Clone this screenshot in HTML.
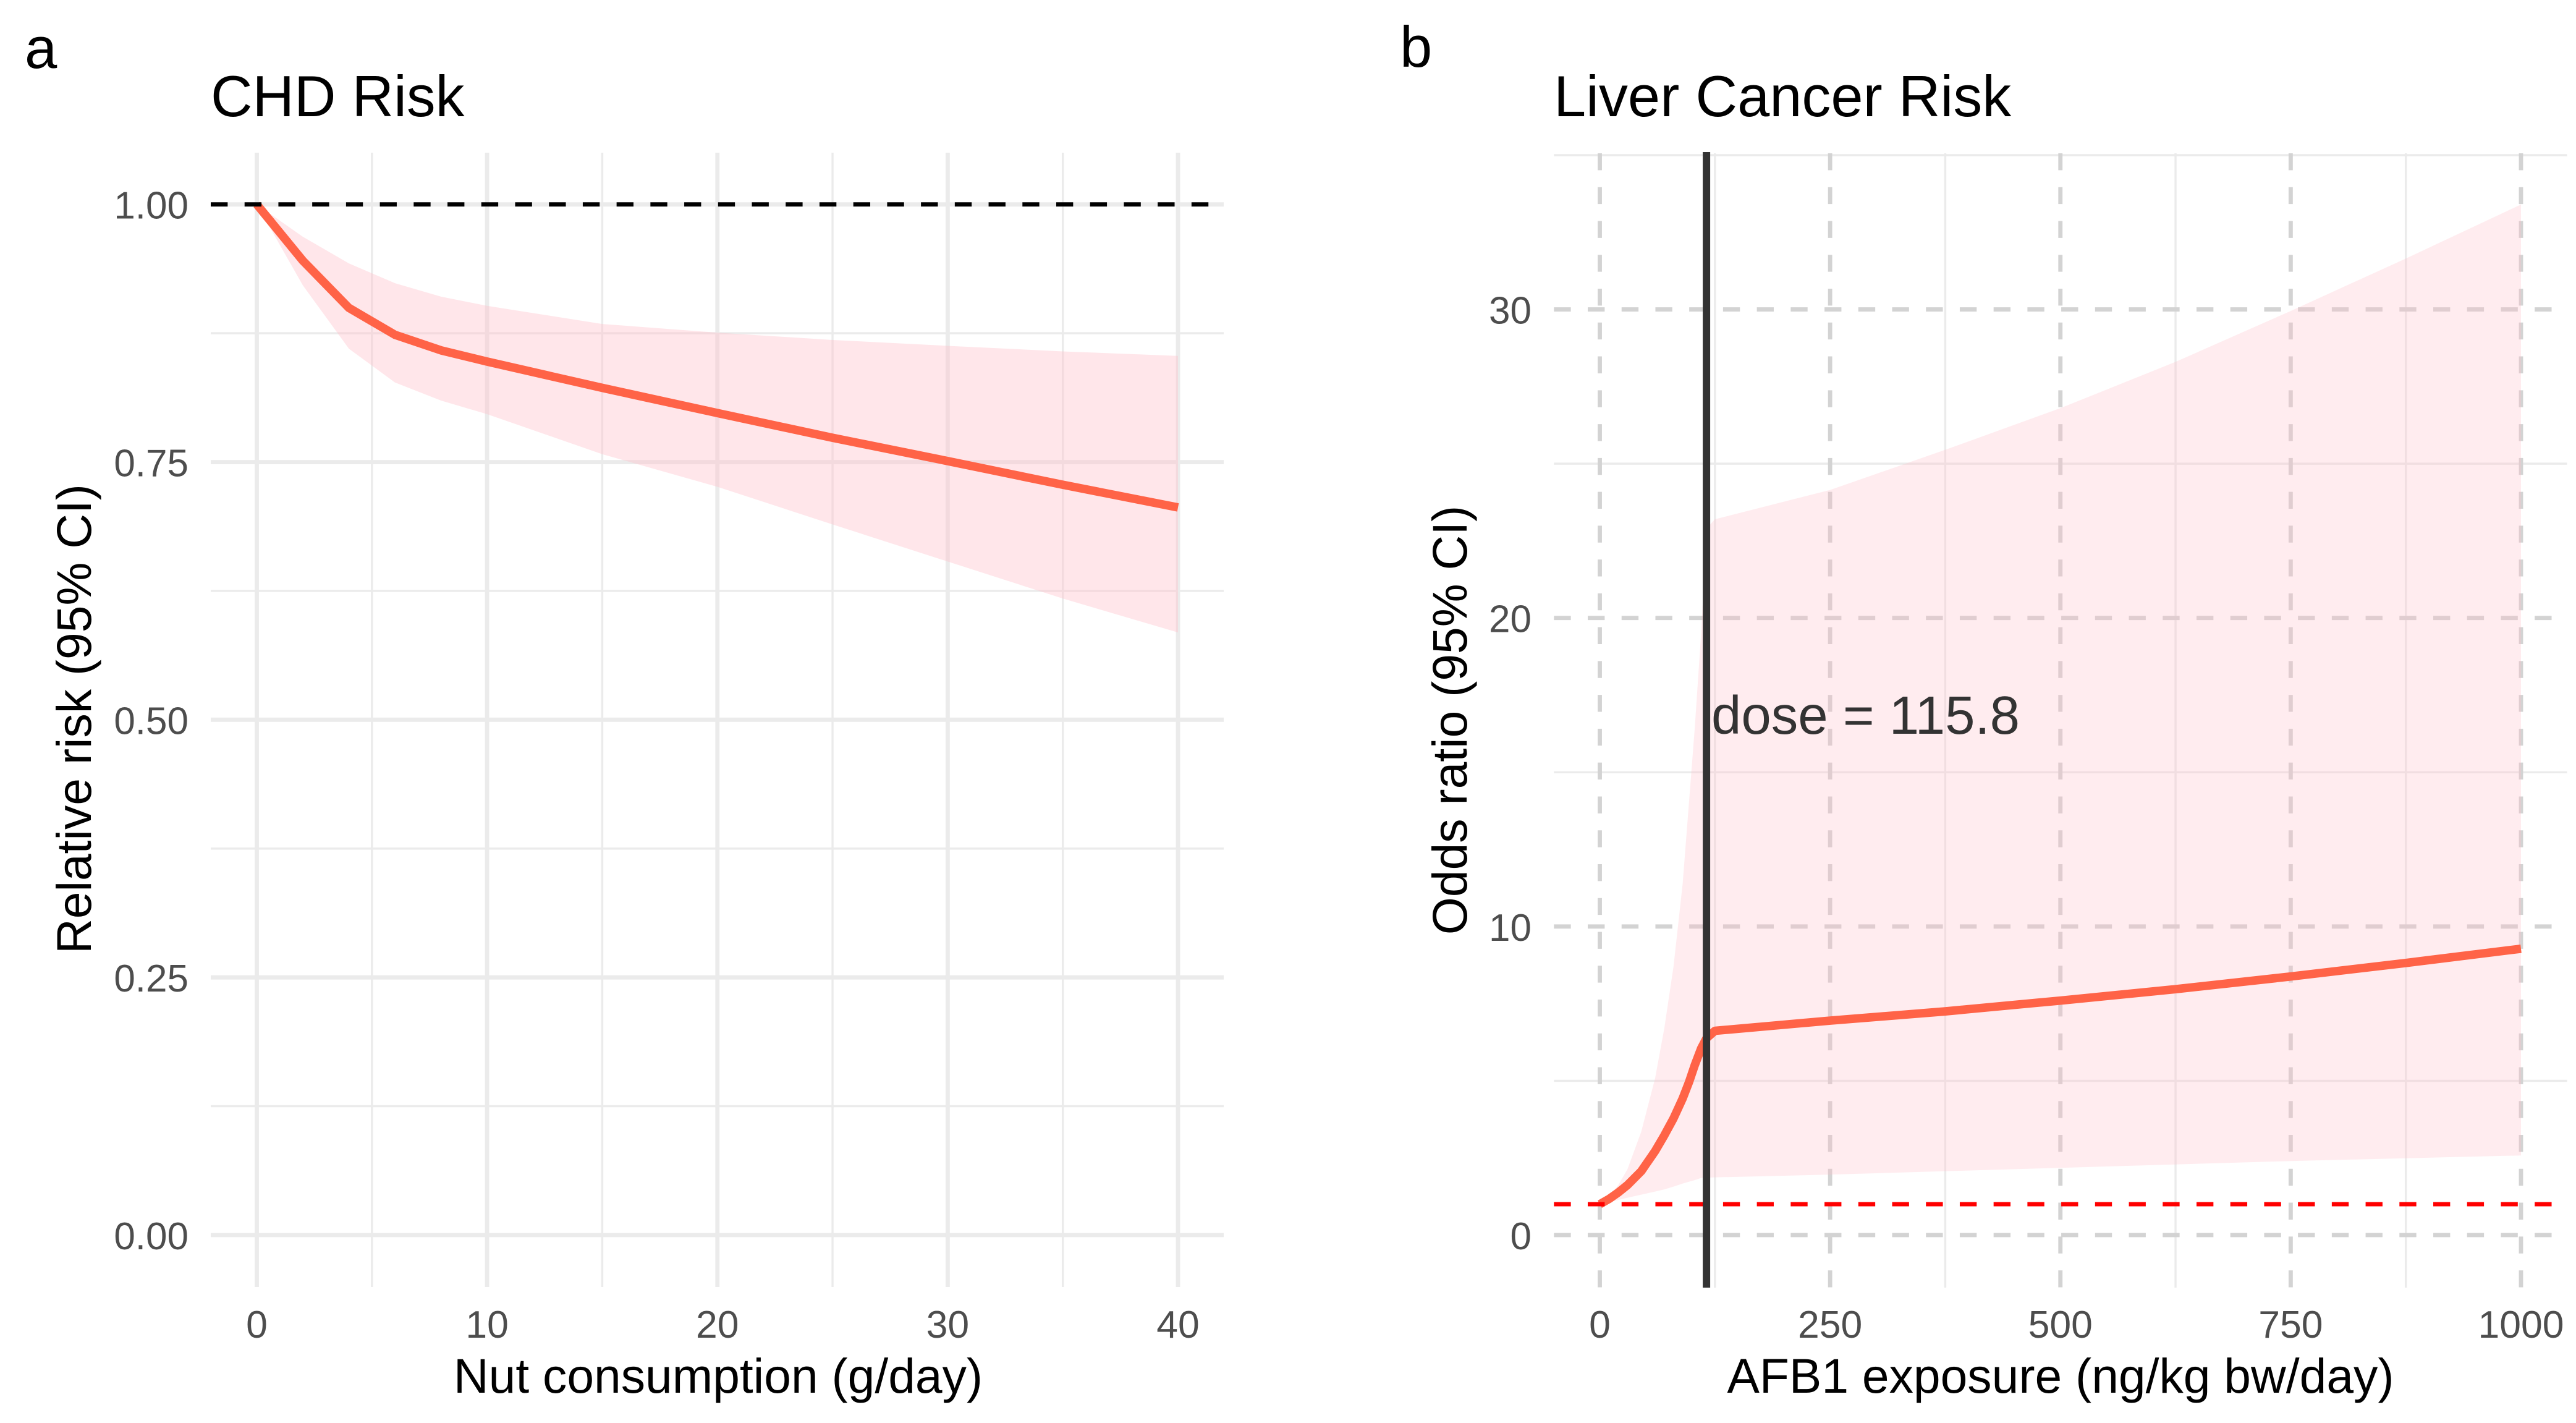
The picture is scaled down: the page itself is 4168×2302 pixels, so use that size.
<!DOCTYPE html>
<html lang="en">
<head>
<meta charset="utf-8">
<title>CHD Risk and Liver Cancer Risk dose-response curves</title>
<style>
  html, body { margin: 0; padding: 0; background: #ffffff; }
  body { width: 4168px; height: 2302px; overflow: hidden; }
  svg { display: block; }
  text { font-family: "Liberation Sans", Arial, sans-serif; }
</style>
</head>
<body>
<svg id="figure" xmlns="http://www.w3.org/2000/svg" width="4168" height="2302" viewBox="0 0 4168 2302">
  <rect x="0" y="0" width="4168" height="2302" fill="#ffffff"/>

  <text x="40" y="110" font-size="94" fill="#000000">a</text>
  <text x="341" y="188" font-size="93.5" fill="#000000">CHD Risk</text>
  <g id="panel-a"></g>
  <text x="1162" y="2253" font-size="78.6" text-anchor="middle" fill="#000000">Nut consumption (g/day)</text>
  <text transform="translate(147 1163) rotate(-90)" font-size="78.6" text-anchor="middle" fill="#000000">Relative risk (95% CI)</text>

  <text x="2265" y="108" font-size="94" fill="#000000">b</text>
  <text x="2514" y="188" font-size="93.8" fill="#000000">Liver Cancer Risk</text>
  <g id="panel-b"></g>
  <text x="3334" y="2253" font-size="78.6" text-anchor="middle" fill="#000000">AFB1 exposure (ng/kg bw/day)</text>
  <text transform="translate(2373 1165) rotate(-90)" font-size="78.6" text-anchor="middle" fill="#000000">Odds ratio (95% CI)</text>
</svg>
<script>
// Panel a data
const aDose = [0, 2, 4, 6, 8, 10, 15, 20, 25, 30, 35, 40];
const aRisk = [1, 0.9454, 0.8996, 0.8735, 0.8584, 0.8475, 0.822, 0.7976, 0.7736, 0.751, 0.728, 0.706];
const aUpper = [1, 0.9686, 0.9428, 0.9236, 0.9105, 0.9016, 0.884, 0.8756, 0.8685, 0.8628, 0.8574, 0.853];
const aLower = [1, 0.9215, 0.86, 0.8272, 0.8097, 0.7965, 0.7577, 0.726, 0.6895, 0.6535, 0.6176, 0.5847];
const aXTicks = [0, 10, 20, 30, 40];
const aXMinor = [5, 15, 25, 35];
const aYTicks = [0, 0.25, 0.5, 0.75, 1];
const aYLabels = ['0.00', '0.25', '0.50', '0.75', '1.00'];
const aYMinor = [0.125, 0.375, 0.625, 0.875];
const aReference = 1;

// Panel b data
const bDose = [0, 10, 20, 30, 45, 60, 70, 80, 90, 97, 103, 110, 115.8, 125, 250, 375, 500, 625, 750, 875, 1000];
const bOdds = [1, 1.17, 1.38, 1.62, 2.07, 2.72, 3.23, 3.78, 4.43, 4.97, 5.5, 6.05, 6.38, 6.62, 6.95, 7.25, 7.6, 7.97, 8.38, 8.82, 9.28];
const bUpper = [1, 1.26, 1.62, 2.13, 3.35, 5.08, 6.7, 8.7, 11.4, 14.1, 16.4, 19.5, 22.9, 23.2, 24.15, 25.45, 26.8, 28.3, 29.95, 31.65, 33.4];
const bLower = [1, 1.07, 1.14, 1.21, 1.31, 1.41, 1.48, 1.57, 1.67, 1.73, 1.78, 1.85, 1.86, 1.87, 1.96, 2.07, 2.18, 2.29, 2.4, 2.49, 2.58];
const bXTicks = [0, 250, 500, 750, 1000];
const bXMinor = [125, 375, 625, 875];
const bYTicks = [0, 10, 20, 30];
const bYMinor = [5, 15, 25, 35];
const bReference = 1;
const bThreshold = 115.8;
const bThresholdLabel = 'dose = 115.8';

const SVG_NS = 'http://www.w3.org/2000/svg';

function scaleLinear(d0, d1, r0, r1) {
  return function (v) { return r0 + (v - d0) * (r1 - r0) / (d1 - d0); };
}
function make(tag, attrs, parent) {
  const el = document.createElementNS(SVG_NS, tag);
  Object.keys(attrs).forEach(function (k) { el.setAttribute(k, attrs[k]); });
  parent.appendChild(el);
  return el;
}
function linePoints(xs, ys, xScale, yScale) {
  return xs.map(function (x, i) { return xScale(x).toFixed(2) + ',' + yScale(ys[i]).toFixed(2); }).join(' ');
}
function ribbonPoints(xs, upper, lower, xScale, yScale) {
  const top = xs.map(function (x, i) { return xScale(x).toFixed(2) + ',' + yScale(upper[i]).toFixed(2); });
  const bottom = xs.map(function (x, i) { return xScale(x).toFixed(2) + ',' + yScale(lower[i]).toFixed(2); }).reverse();
  return top.concat(bottom).join(' ');
}

/* ---------- Panel a ---------- */
(function () {
  const g = document.getElementById('panel-a');
  const left = 341, right = 1980, top = 247, bottom = 2082;
  const x = scaleLinear(0, 40, 415.5, 1906);
  const y = scaleLinear(0, 1, 1998, 330.7);

  aYMinor.forEach(function (v) {
    const el = make('line', { x1: left, x2: right, y1: y(v), y2: y(v), stroke: '#ebebeb', 'stroke-width': 3.42 }, g);
    
    
  });
  aXMinor.forEach(function (v) {
    const el = make('line', { x1: x(v), x2: x(v), y1: top, y2: bottom, stroke: '#ebebeb', 'stroke-width': 3.42 }, g);
    
    
  });
  aYTicks.forEach(function (v) {
    const el = make('line', { x1: left, x2: right, y1: y(v), y2: y(v), stroke: '#ebebeb', 'stroke-width': 6.84 }, g);
    
    
  });
  aXTicks.forEach(function (v) {
    const el = make('line', { x1: x(v), x2: x(v), y1: top, y2: bottom, stroke: '#ebebeb', 'stroke-width': 6.84 }, g);
    
    
  });

  const ribbon = make('polygon', { points: ribbonPoints(aDose, aUpper, aLower, x, y), fill: '#ffc0cb', 'fill-opacity': 0.4 }, g);
  
  

  const curve = make('polyline', { points: linePoints(aDose, aRisk, x, y), fill: 'none', stroke: '#ff6347', 'stroke-width': 13.7, 'stroke-linejoin': 'round' }, g);
  
  

  const ref = make('line', { x1: left, x2: right, y1: y(aReference), y2: y(aReference), stroke: '#000000', 'stroke-width': 6.84, 'stroke-dasharray': '27.36 27.36' }, g);
  
  

  aXTicks.forEach(function (v) {
    const t = make('text', { x: x(v), y: 2164, 'font-size': 62.5, fill: '#4d4d4d', 'text-anchor': 'middle' }, g);
    t.textContent = String(v);
    
    
  });
  aYTicks.forEach(function (v, i) {
    const t = make('text', { x: 305, y: y(v) + 23, 'font-size': 62, fill: '#4d4d4d', 'text-anchor': 'end' }, g);
    t.textContent = aYLabels[i];
    
    
  });
})();

/* ---------- Panel b ---------- */
(function () {
  const g = document.getElementById('panel-b');
  const left = 2514.3, right = 4153.5, top = 248, bottom = 2083;
  const x = scaleLinear(0, 1000, 2588.5, 4079);
  const y = scaleLinear(0, 35, 1998, 251);

  bYMinor.forEach(function (v) {
    const el = make('line', { x1: left, x2: right, y1: y(v), y2: y(v), stroke: '#ebebeb', 'stroke-width': 3.42 }, g);
    
    
  });
  bXMinor.forEach(function (v) {
    const el = make('line', { x1: x(v), x2: x(v), y1: top, y2: bottom, stroke: '#ebebeb', 'stroke-width': 3.42 }, g);
    
    
  });
  bYTicks.forEach(function (v) {
    const el = make('line', { x1: left, x2: right, y1: y(v), y2: y(v), stroke: '#d3d3d3', 'stroke-width': 6.84, 'stroke-dasharray': '27.36 27.36' }, g);
    
    
  });
  bXTicks.forEach(function (v) {
    const el = make('line', { x1: x(v), x2: x(v), y1: top, y2: bottom, stroke: '#d3d3d3', 'stroke-width': 6.84, 'stroke-dasharray': '27.38 27.38' }, g);
    
    
  });

  const ribbon = make('polygon', { points: ribbonPoints(bDose, bUpper, bLower, x, y), fill: '#ffc0cb', 'fill-opacity': 0.3 }, g);
  
  

  const curve = make('polyline', { points: linePoints(bDose, bOdds, x, y), fill: 'none', stroke: '#ff6347', 'stroke-width': 13.7, 'stroke-linejoin': 'round' }, g);
  
  

  const ref = make('line', { x1: left, x2: right, y1: y(bReference), y2: y(bReference), stroke: '#ff0000', 'stroke-width': 6.84, 'stroke-dasharray': '27.36 27.36' }, g);
  
  

  const threshold = make('line', { x1: x(bThreshold), x2: x(bThreshold), y1: top - 2, y2: bottom, stroke: '#333333', 'stroke-width': 12 }, g);
  
  

  const label = make('text', { x: 2769, y: 1187, 'font-size': 87, fill: '#333333' }, g);
  label.textContent = bThresholdLabel;
  
  

  bXTicks.forEach(function (v) {
    const t = make('text', { x: x(v), y: 2164, 'font-size': 62.5, fill: '#4d4d4d', 'text-anchor': 'middle' }, g);
    t.textContent = String(v);
    
    
  });
  bYTicks.forEach(function (v) {
    const t = make('text', { x: 2478, y: y(v) + 23, 'font-size': 62, fill: '#4d4d4d', 'text-anchor': 'end' }, g);
    t.textContent = String(v);
    
    
  });
})();
</script>
</body>
</html>
